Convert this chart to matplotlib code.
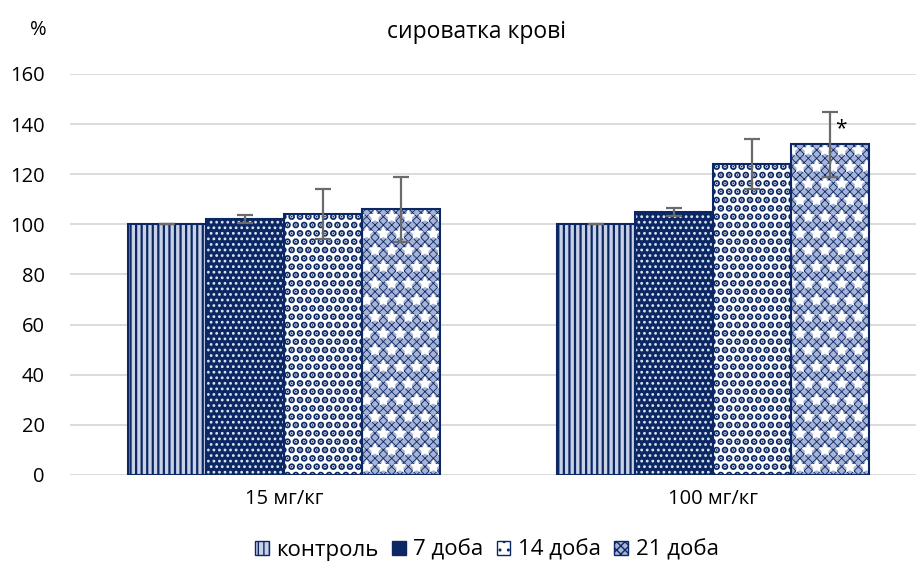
import numpy as np
import matplotlib.pyplot as plt
from matplotlib.patches import Patch

plt.rcParams['font.family'] = ['Open Sans', 'DejaVu Sans']

groups = ['15 мг/кг', '100 мг/кг']
series = ['контроль', '7 доба', '14 доба', '21 доба']
values = [[100, 102, 104, 106],
          [100, 105, 124, 132]]
errors = [[0, 1.6, 10, 13],
          [0, 1.5, 10, 13]]
yticks = [0, 20, 40, 60, 80, 100, 120, 140, 160]

navy = '#0c2864'
# face, hatch colour, hatch, hatch linewidth, extra overlay hatch
styles = [('#c9d1e6', navy, '|||', 1.6, None),
          (navy, '#dfe5f2', '...', 1.2, None),
          ('white', navy, '..', 3.5, None),
          ('#a7b4d8', navy, 'xxxx', 0.6, '*')]

fig = plt.figure(figsize=(9.16, 5.61), dpi=100)
ax = fig.add_axes([70/916, 1-475/561, 1-70/916, (475-74)/561])

x = np.arange(len(groups))
w = 78/428.5
vals = np.array(values)
errs = np.array(errors)
for i in range(len(series)):
    face, hc, h, hlw, extra = styles[i]
    pos = x + (i - 1.5) * w
    with plt.rc_context({'hatch.linewidth': hlw}):
        ax.bar(pos, vals[:, i], w, color=face, edgecolor=hc, hatch=h, linewidth=0, zorder=2)
    if extra:
        with plt.rc_context({'hatch.linewidth': 1.0}):
            ax.bar(pos, vals[:, i], w, fill=False, edgecolor='white', hatch=extra,
                   linewidth=0, zorder=2.5)
    ax.bar(pos, vals[:, i], w, fill=False, edgecolor=navy, linewidth=1.5, zorder=3)
    ax.errorbar(pos, vals[:, i], yerr=errs[:, i], fmt='none', ecolor='#6b6b6b',
                elinewidth=1.6, capsize=6, capthick=1.6, zorder=4)

ax.text(x[1] + 1.5 * w + 0.025, 138, '*', fontsize=15, ha='center', va='center')

ax.set_xlim(-0.5, (916-70)/428.5 - 0.5)
ax.set_ylim(0, 160)
ax.set_yticks(yticks)
ax.set_xticks(x)
ax.set_xticklabels(groups)
ax.tick_params(axis='both', length=0, labelsize=14.5, colors='black')
ax.tick_params(axis='y', pad=18)
ax.tick_params(axis='x', pad=10)
ax.yaxis.grid(True, color='#d9d9d9', linewidth=1.3, zorder=0)
ax.set_axisbelow(True)
for s in ax.spines.values():
    s.set_visible(False)

fig.text(477/916, 1-32/561, 'сироватка крові', ha='center', va='center', fontsize=16.5)
fig.text(38/916, 1-30/561, '%', ha='center', va='center', fontsize=14.5)

handles = [Patch(facecolor=st[0], edgecolor=navy, hatch=st[2], linewidth=1) for st in styles]
fig.legend(handles, series, loc='center', bbox_to_anchor=(487/916, 1-550/561), ncol=4,
           frameon=False, fontsize=16, handlelength=0.6, handleheight=0.6,
           handletextpad=0.35, columnspacing=0.6)

fig.savefig('out.png', dpi=100)
